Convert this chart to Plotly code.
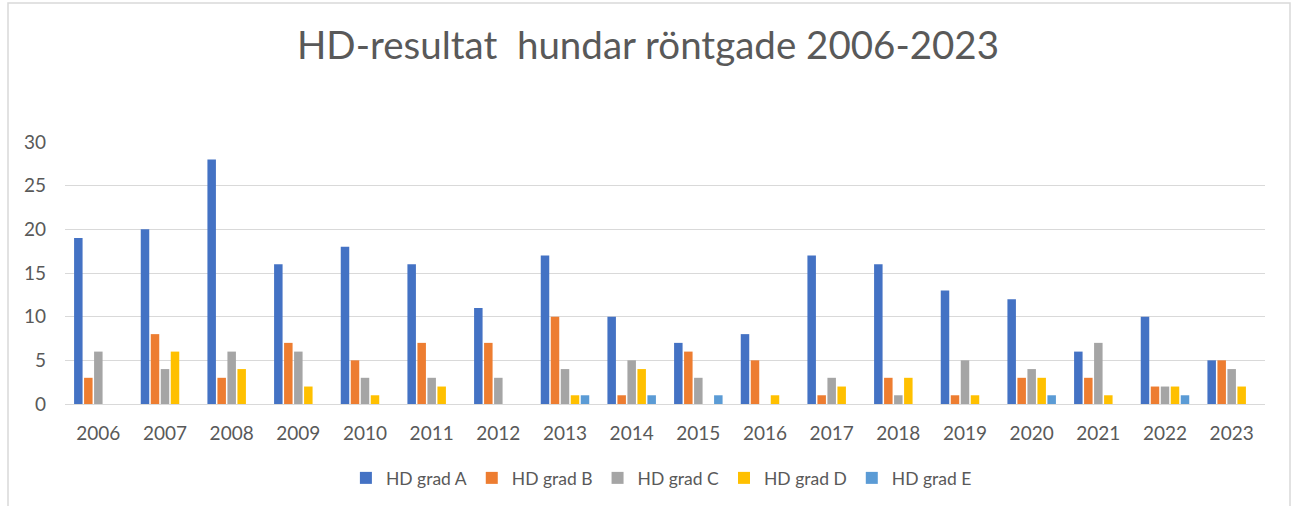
import plotly.graph_objects as go

years = [str(y) for y in range(2006, 2024)]
grad_a = [19, 20, 28, 16, 18, 16, 11, 17, 10, 7, 8, 17, 16, 13, 12, 6, 10, 5]
grad_b = [3, 8, 3, 7, 5, 7, 7, 10, 1, 6, 5, 1, 3, 1, 3, 3, 2, 5]
grad_c = [6, 4, 6, 6, 3, 3, 3, 4, 5, 3, 0, 3, 1, 5, 4, 7, 2, 4]
grad_d = [0, 6, 4, 2, 1, 2, 0, 1, 4, 0, 1, 2, 3, 1, 3, 1, 2, 2]
grad_e = [0, 0, 0, 0, 0, 0, 0, 1, 1, 1, 0, 0, 0, 0, 1, 0, 1, 0]

series = [
    ("HD grad A", grad_a, "#4472C4"),
    ("HD grad B", grad_b, "#ED7D31"),
    ("HD grad C", grad_c, "#A5A5A5"),
    ("HD grad D", grad_d, "#FFC000"),
    ("HD grad E", grad_e, "#5B9BD5"),
]

FONT = "Lato, Open Sans, sans-serif"
GREY = "#595959"

W, H = 1295, 506
L, R, T, B = 65, 30, 142, 102
PW, PH = W - L - R, H - T - B

fig = go.Figure()
for name, vals, col in series:
    fig.add_trace(go.Bar(x=years, y=vals, name=name,
                         marker=dict(color=col, line=dict(width=0))))

fig.update_layout(
    width=W, height=H,
    paper_bgcolor="white", plot_bgcolor="white",
    barmode="group", bargap=0.25, bargroupgap=0.15,
    margin=dict(l=L, r=R, t=T, b=B, autoexpand=False),
    title=dict(text="HD-resultat&nbsp; hundar röntgade 2006-2023",
               x=648 / W, xref="container", xanchor="center",
               y=1 - 46 / H, yanchor="middle",
               font=dict(family=FONT, size=38.5, color=GREY)),
    font=dict(family=FONT, size=19, color=GREY),
    legend=dict(orientation="h", x=0.497, xanchor="center", y=-74 / PH,
                yanchor="middle", font=dict(family=FONT, size=17.5, color=GREY),
                itemwidth=30, traceorder="normal"),
    showlegend=True,
)
fig.update_xaxes(showgrid=False, showline=True, linecolor="#D9D9D9",
                 linewidth=1, ticks="", ticklabelstandoff=12,
                 tickfont=dict(size=19, color=GREY))
fig.update_yaxes(range=[0, 30], dtick=5, showgrid=True, gridcolor="#D9D9D9",
                 gridwidth=1, zeroline=False, showline=False, ticks="",
                 ticklabelstandoff=18, tickfont=dict(size=19, color=GREY))

# outer chart border
fig.add_shape(type="rect", xref="paper", yref="paper",
              x0=(8 - L) / PW, x1=(1290 - L) / PW,
              y0=(H - B - 530) / PH, y1=(H - B - 3) / PH,
              line=dict(color="#D9D9D9", width=1.5), fillcolor="rgba(0,0,0,0)",
              layer="below")

fig.write_html("out.html", config={"displayModeBar": False},
               post_script="document.body.style.margin='0';")
